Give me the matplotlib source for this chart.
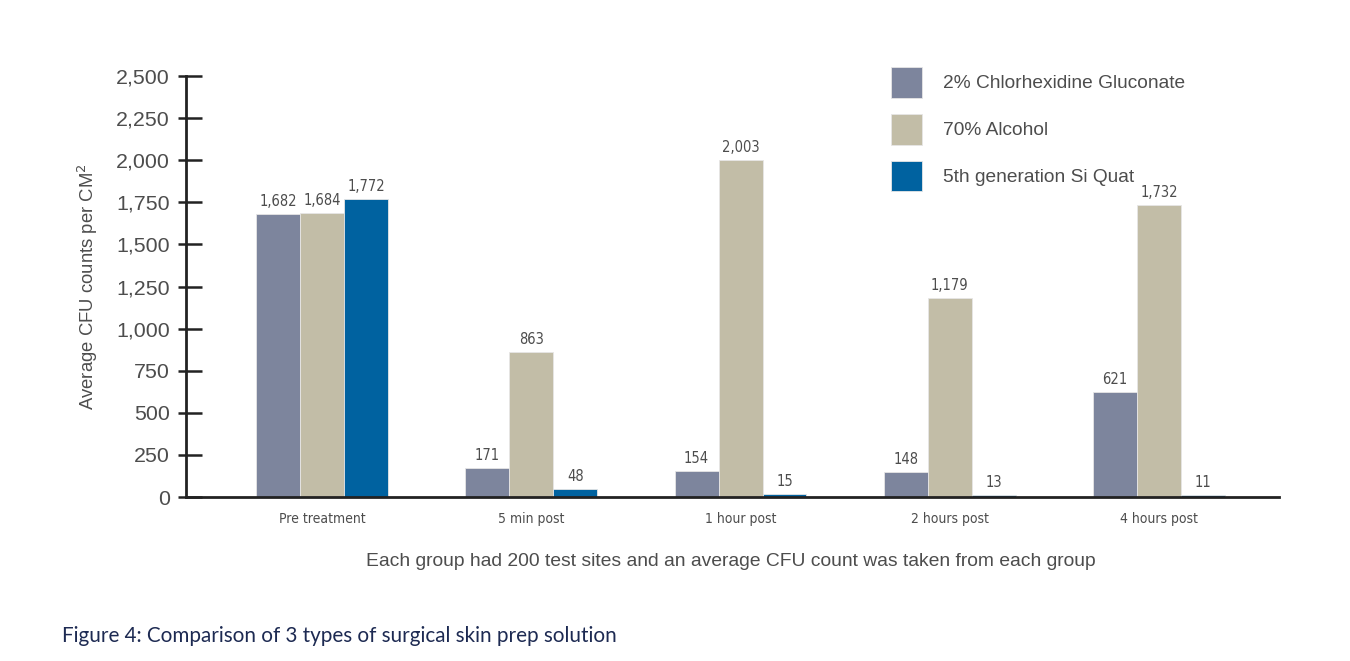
import numpy as np
import matplotlib
matplotlib.use("Agg")
import matplotlib.pyplot as plt

# values as printed on the bars
groups = ['Pre treatment', '5 min post', '1 hour post', '2 hours post', '4 hours post']
chg = [1682, 171, 154, 148, 621]
alcohol = [1684, 863, 2003, 1179, 1732]
si_quat = [1772, 48, 15, 13, 11]
series_names = ['2% Chlorhexidine Gluconate', '70% Alcohol', '5th generation Si Quat']
y_ticks = [0, 250, 500, 750, 1000, 1250, 1500, 1750, 2000, 2250, 2500]

colors = ['#7d859d', '#c2bda7', '#0062a0']
text_grey = '#4d4d4d'

fig = plt.figure(figsize=(13.5, 6.61), dpi=100)
ax = fig.add_axes([0.1378, 0.2481, 0.8096, 0.6369])

x = np.arange(len(groups))
w = 0.21
for i, (vals, name) in enumerate(zip([chg, alcohol, si_quat], series_names)):
    pos = x + (i - 1) * w
    bars = ax.bar(pos, vals, width=w, color=colors[i], label=name,
                  edgecolor='#e6e6e6', linewidth=0.6, zorder=2)
    for b, v in zip(bars, vals):
        ax.text(b.get_x() + b.get_width() / 2, v + 30, f'{v:,}',
                ha='center', va='bottom', fontsize=10.5, color=text_grey,
                family='DejaVu Sans', stretch='condensed')

ax.set_xlim(-0.65, 4.573)
ax.set_ylim(0, 2500)
ax.set_yticks(y_ticks)
ax.set_yticklabels([f'{t:,}' for t in y_ticks], fontsize=15.4, color=text_grey,
                   family='Liberation Sans')
# ticks stick out 8px and reach 16px inside: major inward, minor outward
ax.set_yticks(y_ticks, minor=True)
ax.yaxis.remove_overlapping_locs = False
ax.tick_params(axis='y', which='major', direction='in', length=11.5, width=1.8,
               color='#222222', pad=11.5)
ax.tick_params(axis='y', which='minor', direction='out', length=5.8, width=1.8,
               color='#222222')
ax.set_xticks(x)
ax.set_xticklabels(groups, fontsize=10, color=text_grey, family='DejaVu Sans',
                   stretch='condensed')
ax.tick_params(axis='x', length=0, pad=11)

for s in ['top', 'right']:
    ax.spines[s].set_visible(False)
for s in ['left', 'bottom']:
    ax.spines[s].set_linewidth(2)
    ax.spines[s].set_color('#222222')

ax.set_ylabel('Average CFU counts per CM$^2$', fontsize=13.3, color=text_grey,
              family='Liberation Sans', labelpad=12)

ax.legend(loc='upper left', bbox_to_anchor=(891 / 1350, 1 - 67 / 661),
          bbox_transform=fig.transFigure, frameon=False, borderpad=0,
          borderaxespad=0, handlelength=1.61, handleheight=2.1,
          labelspacing=0.83, handletextpad=1.09,
          prop={'family': 'Liberation Sans', 'size': 13.8}, labelcolor=text_grey)

fig.text(731 / 1350, 1 - 561 / 661,
         'Each group had 200 test sites and an average CFU count was taken from each group',
         ha='center', va='center', fontsize=13.9, color=text_grey, family='Liberation Sans')
fig.text(62 / 1350, 1 - 636 / 661,
         'Figure 4: Comparison of 3 types of surgical skin prep solution',
         ha='left', va='center', fontsize=14.9, color='#1d2a52', family='Lato')

fig.savefig('out.png', dpi=100)
